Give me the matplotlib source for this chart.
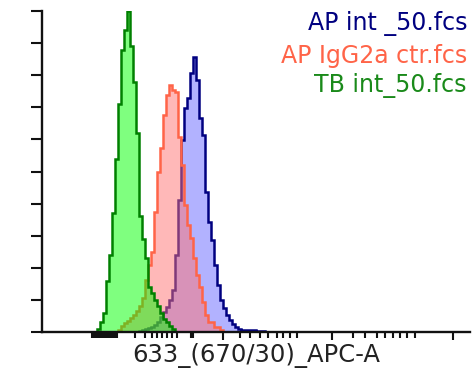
import numpy as np
import matplotlib
matplotlib.use("Agg")
import matplotlib.pyplot as plt

# ---- data (display channel units on a biexponential-style axis, counts as % of max) ----
bin_width = 3
green_start = 55
green_counts = [1, 3, 6, 16, 24, 37, 54, 71, 88, 94, 100, 89, 78, 62, 36, 29, 23,
                14, 12, 10, 8, 6, 4, 3, 2, 1]
red_start = 76
red_counts = [0.6, 1.9, 2.8, 3.4, 4.4, 5.3, 6.5, 8.1, 10.6, 16.2, 20.9, 24.9, 37.4,
              49.8, 57.3, 67.6, 73.8, 76.9, 75.4, 74.8, 60.7, 52.0, 39.6, 33.3, 29.3,
              23.1, 17.8, 14.0, 9.3, 5.3, 3.1, 3.1, 1.6, 1.6, 0.6]
blue_start = 97
blue_counts = [0.3, 0.6, 0.9, 1.2, 1.6, 2.2, 3.1, 4.7, 6.2, 7.8, 10.0, 13.1, 24.0,
               41.1, 59.8, 69.8, 72.9, 80.7, 85.7, 78.5, 66.7, 61.4, 43.6, 34.3, 28.7,
               20.9, 14.6, 10.0, 7.5, 5.3, 3.7, 2.5, 1.6, 0.9, 0.6, 0.6, 0.6, 0.6, 0.6,
               0.3, 0.3, 0.3]

legend_labels = ["AP int _50.fcs", "AP IgG2a ctr.fcs", "TB int_50.fcs"]
x_label = "633_(670/30)_APC-A"

band_ticks = list(np.linspace(50, 75, 17))
minor_ticks = [93, 103, 110, 115, 120, 125, 130, 135, 149, 151,
               198, 208, 218, 226, 235, 241, 248, 255,
               311, 323, 335, 343, 351, 358, 365, 373]
major_ticks = [181, 290, 411]
y_ticks = list(range(0, 101, 10))

# ---- figure ----
W, H = 475, 376
fig = plt.figure(figsize=(W / 100, H / 100), dpi=100)
ax = fig.add_axes([42 / W, (H - 332) / H, (470 - 42) / W, (332 - 11) / H])

series = [
    (blue_start, blue_counts, "#6666ff", "#000080"),
    (red_start, red_counts, "#ff7373", "#ff6448"),
    (green_start, green_counts, "#00ff00", "#008000"),
]
for start, counts, fillc, linec in series:
    edges = start + bin_width * np.arange(len(counts) + 1)
    ax.stairs(counts, edges, fill=True, color=fillc, alpha=0.5, baseline=0, lw=0)
    ax.stairs(counts, edges, color=linec, lw=1.8, baseline=0)

ax.set_xlim(0, 428)
ax.set_ylim(0, 100)

for s in ["top", "right"]:
    ax.spines[s].set_visible(False)
for s in ["left", "bottom"]:
    ax.spines[s].set_linewidth(1.7)
    ax.spines[s].set_color("#111111")

ax.set_yticks(y_ticks)
ax.set_yticklabels([])
ax.tick_params(axis="y", length=8, width=1.5, color="#111111", direction="out")

ax.set_xticks(major_ticks)
ax.set_xticklabels([])
ax.set_xticks(band_ticks + minor_ticks, minor=True)
ax.tick_params(axis="x", which="major", length=6, width=1.5, color="#111111")
ax.tick_params(axis="x", which="minor", length=4, width=1.5, color="#111111")

fig.text(256 / W, 1 - 356 / H, x_label, ha="center", va="center",
         fontsize=17.5, color="#222222", family="DejaVu Sans")

legend_colors = ["#000080", "#ff6448", "#1a8a1a"]
legend_y = [24, 56, 86]
for lab, c, yy in zip(legend_labels, legend_colors, legend_y):
    fig.text(467 / W, 1 - yy / H, lab, ha="right", va="center",
             fontsize=17, color=c, family="DejaVu Sans")

fig.savefig("out.png", dpi=100)
